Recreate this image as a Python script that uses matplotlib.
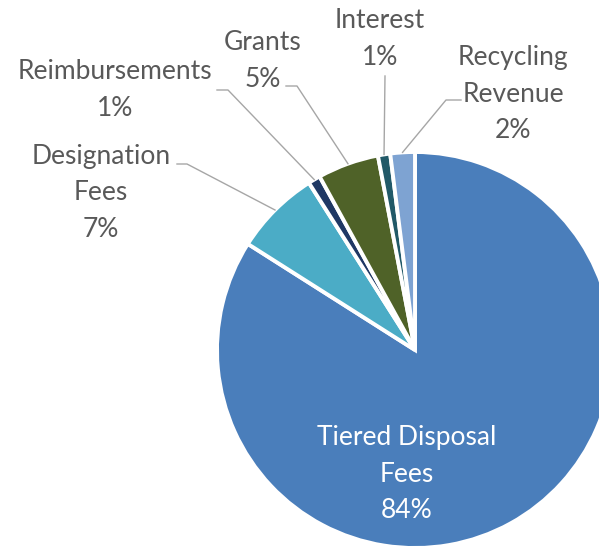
import numpy as np
import matplotlib.pyplot as plt

W, H = 599, 546

labels = ['Tiered Disposal\nFees', 'Designation\nFees', 'Reimbursements',
          'Grants', 'Interest', 'Recycling\nRevenue']
shares = [84, 7, 1, 5, 1, 2]
colors = ['#4A7EBB', '#4BACC6', '#1F3864', '#4F6228', '#215968', '#7EA3D2']

# label centres (px, from top-left) and leader elbows
label_pos = [(407, 474), (101, 193), (115, 90), (263, 61), (380, 39), (513, 94)]
elbows = [None, [(177, 164), (187, 164)], [(217, 90), (228, 90)],
          [(286, 86), (297, 86)], [(385, 76)], [(461, 100), (446, 100)]]

plt.rcParams['font.family'] = ['Lato', 'DejaVu Sans']

fig = plt.figure(figsize=(W / 100, H / 100), dpi=100)
ax = fig.add_axes([0, 0, 1, 1])

cx, cy, r = 415, H - 350, 198
wedges, _ = ax.pie(shares, colors=colors, startangle=90, counterclock=False,
                   center=(cx, cy), radius=r,
                   wedgeprops=dict(edgecolor='white', linewidth=2.8))
ax.set_xlim(0, W)
ax.set_ylim(0, H)
ax.set_aspect('equal')
ax.axis('off')

for i, (w, lab, s) in enumerate(zip(wedges, labels, shares)):
    x, y = label_pos[i]
    col = 'white' if i == 0 else '#595959'
    ax.text(x, H - y, f'{lab}\n{s}%', ha='center', va='center', fontsize=19,
            color=col, linespacing=1.56)
    if elbows[i] is None:
        continue
    mid = np.deg2rad((w.theta1 + w.theta2) / 2)
    end = (cx + r * np.cos(mid), cy + r * np.sin(mid))
    pts = [(px, H - py) for px, py in elbows[i]] + [end]
    xs, ys = zip(*pts)
    ax.plot(xs, ys, color='#A6A6A6', lw=1.0)

fig.savefig('out.png', dpi=100)
